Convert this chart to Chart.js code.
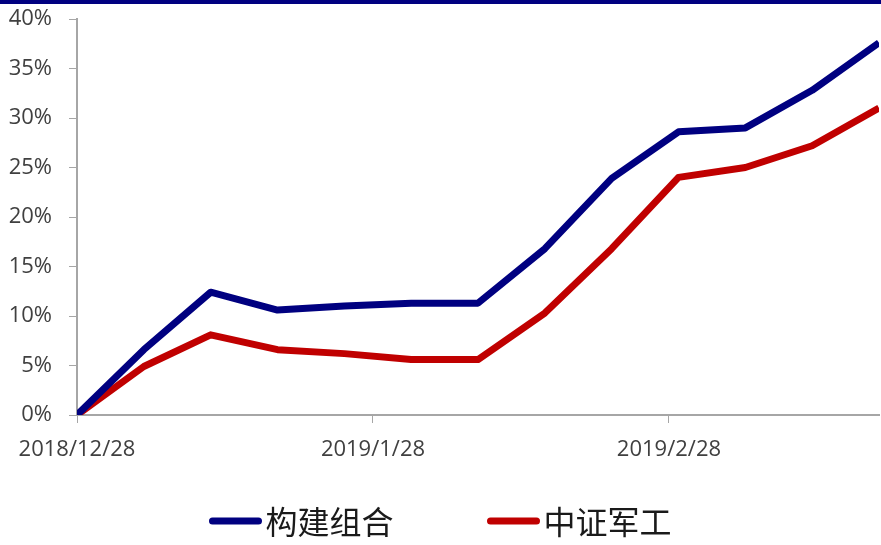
<!DOCTYPE html>
<html>
<head>
<meta charset="utf-8">
<script src="https://cdn.jsdelivr.net/npm/chart.js@4"></script>
<style>
html,body{margin:0;padding:0;background:#fff;}
#wrap{width:881px;height:545px;position:relative;}
</style>
</head>
<body>
<div id="wrap"><canvas id="c" width="881" height="545"></canvas></div>
<script>
// ---- data ----
const dates = ['2018/12/28','2019/1/4','2019/1/11','2019/1/18','2019/1/25','2019/2/1','2019/2/8','2019/2/15','2019/2/22','2019/3/1','2019/3/8','2019/3/15','2019/3/22'];
const portfolio = [0, 6.6, 12.4, 10.6, 11.0, 11.3, 11.3, 16.8, 23.9, 28.6, 29.0, 32.8, 37.6];
const csiDefense = [0, 4.9, 8.1, 6.6, 6.2, 5.6, 5.6, 10.3, 16.8, 24.0, 25.0, 27.2, 31.0];
const seriesNames = ['构建组合', '中证军工'];
const seriesColors = ['#000080', '#C00000'];
const xTickLabels = ['2018/12/28', '2019/1/28', '2019/2/28'];
const yTicks = [0, 5, 10, 15, 20, 25, 30, 35, 40];

function dayOf(s) {
  const p = s.split('/').map(Number);
  return Date.UTC(p[0], p[1] - 1, p[2]) / 86400000;
}
const base = dayOf(dates[0]);
const xs = dates.map(d => dayOf(d) - base);
const xTickValues = xTickLabels.map(d => dayOf(d) - base);

const series = [portfolio, csiDefense];

const topBar = {
  id: 'topBar',
  beforeDraw(chart) {
    const ctx = chart.ctx;
    ctx.save();
    ctx.fillStyle = '#000080';
    ctx.fillRect(0, 0, chart.width, 4);
    ctx.restore();
  }
};

const customLegend = {
  id: 'customLegend',
  afterDraw(chart) {
    const ctx = chart.ctx;
    ctx.save();
    ctx.font = '32px "Noto Sans CJK SC"';
    const lineW = 52, gap = 4, itemGap = 94;
    const items = chart.data.datasets.map(ds => ({
      label: ds.label, color: ds.borderColor, tw: ctx.measureText(ds.label).width
    }));
    let total = 0;
    items.forEach((it, i) => { total += lineW + gap + it.tw + (i ? itemGap : 0); });
    let x = (chart.width - total) / 2;
    const y = 521;
    items.forEach((it, i) => {
      if (i) x += itemGap;
      ctx.strokeStyle = it.color;
      ctx.lineWidth = 7;
      ctx.lineCap = 'round';
      ctx.beginPath();
      ctx.moveTo(x + 3, y);
      ctx.lineTo(x + lineW - 3, y);
      ctx.stroke();
      x += lineW + gap;
      ctx.fillStyle = '#1a1a1a';
      ctx.textBaseline = 'middle';
      ctx.textAlign = 'left';
      ctx.fillText(it.label, x, y + 1);
      x += it.tw;
    });
    ctx.restore();
  }
};

function noPad(scale) {
  scale.paddingLeft = 0; scale.paddingRight = 0;
  scale.paddingTop = 0; scale.paddingBottom = 0;
}

new Chart(document.getElementById('c'), {
  type: 'line',
  data: {
    datasets: series.map((vals, i) => ({
      label: seriesNames[i],
      data: vals.map((v, j) => ({ x: xs[j], y: v })),
      borderColor: seriesColors[i],
      backgroundColor: seriesColors[i],
      borderWidth: 7,
      borderJoinStyle: 'round',
      pointRadius: 0,
      tension: 0,
      fill: false
    }))
  },
  options: {
    responsive: false,
    animation: false,
    events: [],
    layout: { padding: { top: 19, right: 2, left: 0, bottom: 86 } },
    plugins: { legend: { display: false }, tooltip: { enabled: false } },
    scales: {
      x: {
        type: 'linear',
        min: xs[0],
        max: xs[xs.length - 1],
        afterBuildTicks(scale) { scale.ticks = xTickValues.map(v => ({ value: v })); },
        afterFit(scale) { noPad(scale); scale.height = 44; },
        ticks: {
          autoSkip: false,
          maxRotation: 0,
          padding: 14,
          color: '#404040',
          font: { family: '"Open Sans"', size: 22 },
          callback(v) { const k = xTickValues.indexOf(v); return k >= 0 ? xTickLabels[k] : ''; }
        },
        grid: { drawOnChartArea: false, drawTicks: true, tickLength: 8, color: '#a6a6a6', lineWidth: 1 },
        border: { color: '#a6a6a6', width: 2 }
      },
      y: {
        min: yTicks[0],
        max: yTicks[yTicks.length - 1],
        afterBuildTicks(scale) { scale.ticks = yTicks.map(v => ({ value: v })); },
        afterFit(scale) { noPad(scale); scale.width = 77; },
        ticks: {
          padding: 17,
          color: '#404040',
          font: { family: '"Open Sans"', size: 22 },
          callback: v => v + '%'
        },
        grid: { drawOnChartArea: false, drawTicks: true, tickLength: 8, color: '#a6a6a6', lineWidth: 1 },
        border: { color: '#a6a6a6', width: 2 }
      }
    }
  },
  plugins: [topBar, customLegend]
});
</script>
</body>
</html>
